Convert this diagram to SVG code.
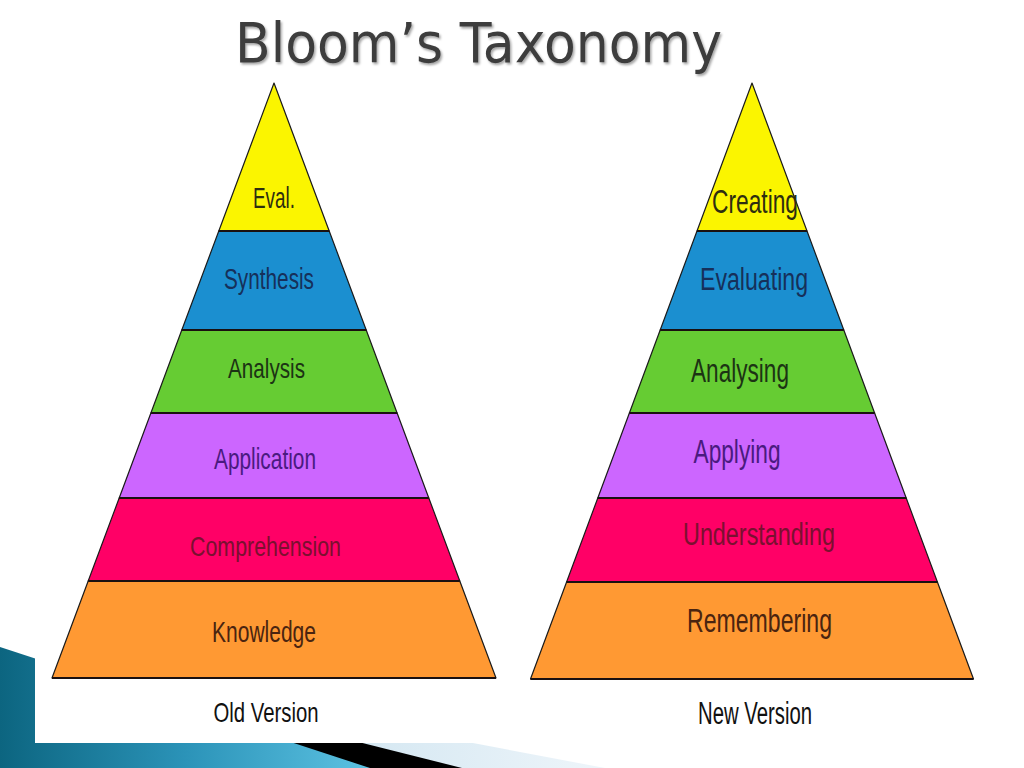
<svg xmlns="http://www.w3.org/2000/svg" width="1024" height="768" viewBox="0 0 1024 768">
  <defs>
    <linearGradient id="teal" x1="0" y1="0" x2="1" y2="0">
      <stop offset="0" stop-color="#0c6580"/>
      <stop offset="0.5" stop-color="#2b93b8"/>
      <stop offset="1" stop-color="#5cc2e2"/>
    </linearGradient>
    <linearGradient id="pale" x1="0" y1="0" x2="1" y2="0">
      <stop offset="0.55" stop-color="#d2e6f1"/>
      <stop offset="1" stop-color="#eef5fa"/>
    </linearGradient>
    <filter id="shadow" x="-5%" y="-20%" width="110%" height="150%">
      <feDropShadow dx="1.5" dy="2" stdDeviation="1.2" flood-color="#000" flood-opacity="0.35"/>
    </filter>
  </defs>
  <style>
    .tier { stroke: #1a1a1a; stroke-width: 1.2; stroke-linejoin: round; }
    .sep { stroke: #1a1010; stroke-width: 2.2; }
    .lbl { font-family: "Liberation Sans", Arial, sans-serif; text-anchor: middle; }
    .cap { font-family: "Liberation Sans", Arial, sans-serif; text-anchor: middle; fill: #111; }
    .yellow { fill: #fbf500; }
    .blue { fill: #1b8fd0; }
    .green { fill: #66cc33; }
    .purple { fill: #cc66ff; }
    .pink { fill: #ff0066; }
    .orange { fill: #ff9933; }
  </style>

  <rect x="0" y="0" width="1024" height="768" fill="#ffffff"/>

  <!-- bottom-left decoration -->
  <g id="decoration">
    <polygon points="0,654 605,768 0,768" fill="url(#pale)"/>
    <polygon points="0,652 462,768 0,768" fill="#000000"/>
    <polygon points="0,647 370,768 0,768" fill="url(#teal)"/>
    <rect x="35" y="0" width="989" height="743" fill="#ffffff"/>
  </g>

  <!-- title -->
  <g id="title">
    <text x="478.5" y="62" font-family="'DejaVu Sans', Verdana, sans-serif" font-size="56" fill="#3d3d3d" text-anchor="middle" textLength="487" lengthAdjust="spacingAndGlyphs" filter="url(#shadow)">Bloom’s Taxonomy</text>
  </g>

  <!-- old version pyramid -->
  <g id="old-pyramid">
    <g id="old-eval">
      <polygon class="tier yellow" points="274,83 329.2,231 218.8,231"/>
      <text class="lbl" x="274" y="208" font-size="30" fill="#2e2e10" textLength="42" lengthAdjust="spacingAndGlyphs">Eval.</text>
    </g>
    <g id="old-synthesis">
      <polygon class="tier blue" points="218.8,231 329.2,231 366.2,330 181.8,330"/>
      <text class="lbl" x="269" y="289" font-size="29" fill="#16305a" textLength="90" lengthAdjust="spacingAndGlyphs">Synthesis</text>
    </g>
    <g id="old-analysis">
      <polygon class="tier green" points="181.8,330 366.2,330 397.1,413 150.9,413"/>
      <text class="lbl" x="266.5" y="378" font-size="28" fill="#1c3314" textLength="77" lengthAdjust="spacingAndGlyphs">Analysis</text>
    </g>
    <g id="old-application">
      <polygon class="tier purple" points="150.9,413 397.1,413 428.8,498 119.2,498"/>
      <text class="lbl" x="265" y="469" font-size="30" fill="#4a1a80" textLength="102" lengthAdjust="spacingAndGlyphs">Application</text>
    </g>
    <g id="old-comprehension">
      <polygon class="tier pink" points="119.2,498 428.8,498 459.8,581 88.2,581"/>
      <text class="lbl" x="265.5" y="556" font-size="28" fill="#7a1030" textLength="151" lengthAdjust="spacingAndGlyphs">Comprehension</text>
    </g>
    <g id="old-knowledge">
      <polygon class="tier orange" points="88.2,581 459.8,581 496,678 52,678"/>
      <text class="lbl" x="264" y="642" font-size="30" fill="#4a2410" textLength="104" lengthAdjust="spacingAndGlyphs">Knowledge</text>
    </g>
    <g class="sep">
      <line x1="218.8" y1="231" x2="329.2" y2="231"/>
      <line x1="181.8" y1="330" x2="366.2" y2="330"/>
      <line x1="150.9" y1="413" x2="397.1" y2="413"/>
      <line x1="119.2" y1="498" x2="428.8" y2="498"/>
      <line x1="88.2" y1="581" x2="459.8" y2="581"/>
      <line x1="52" y1="678" x2="496" y2="678"/>
    </g>
    <text id="old-caption" class="cap" x="266" y="722" font-size="28" textLength="105" lengthAdjust="spacingAndGlyphs">Old Version</text>
  </g>

  <!-- new version pyramid -->
  <g id="new-pyramid">
    <g id="new-creating">
      <polygon class="tier yellow" points="752,83 807,231 697,231"/>
      <text class="lbl" x="755" y="213" font-size="33" fill="#2e2e10" textLength="86" lengthAdjust="spacingAndGlyphs">Creating</text>
    </g>
    <g id="new-evaluating">
      <polygon class="tier blue" points="697,231 807,231 843.8,330 660.2,330"/>
      <text class="lbl" x="754" y="290" font-size="31" fill="#16305a" textLength="108" lengthAdjust="spacingAndGlyphs">Evaluating</text>
    </g>
    <g id="new-analysing">
      <polygon class="tier green" points="660.2,330 843.8,330 874.6,413 629.4,413"/>
      <text class="lbl" x="740" y="382" font-size="33" fill="#1c3314" textLength="98" lengthAdjust="spacingAndGlyphs">Analysing</text>
    </g>
    <g id="new-applying">
      <polygon class="tier purple" points="629.4,413 874.6,413 906.2,498 597.8,498"/>
      <text class="lbl" x="737" y="463" font-size="34" fill="#4a1a80" textLength="87" lengthAdjust="spacingAndGlyphs">Applying</text>
    </g>
    <g id="new-understanding">
      <polygon class="tier pink" points="597.8,498 906.2,498 937.4,582 566.6,582"/>
      <text class="lbl" x="759" y="545" font-size="31" fill="#7a1030" textLength="152" lengthAdjust="spacingAndGlyphs">Understanding</text>
    </g>
    <g id="new-remembering">
      <polygon class="tier orange" points="566.6,582 937.4,582 973.5,679 530.5,679"/>
      <text class="lbl" x="759.5" y="632" font-size="34" fill="#4a2410" textLength="145" lengthAdjust="spacingAndGlyphs">Remembering</text>
    </g>
    <g class="sep">
      <line x1="697" y1="231" x2="807" y2="231"/>
      <line x1="660.2" y1="330" x2="843.8" y2="330"/>
      <line x1="629.4" y1="413" x2="874.6" y2="413"/>
      <line x1="597.8" y1="498" x2="906.2" y2="498"/>
      <line x1="566.6" y1="582" x2="937.4" y2="582"/>
      <line x1="530.5" y1="679" x2="973.5" y2="679"/>
    </g>
    <text id="new-caption" class="cap" x="755" y="724" font-size="31" textLength="114" lengthAdjust="spacingAndGlyphs">New Version</text>
  </g>

  <g id="connectors"/>
</svg>
